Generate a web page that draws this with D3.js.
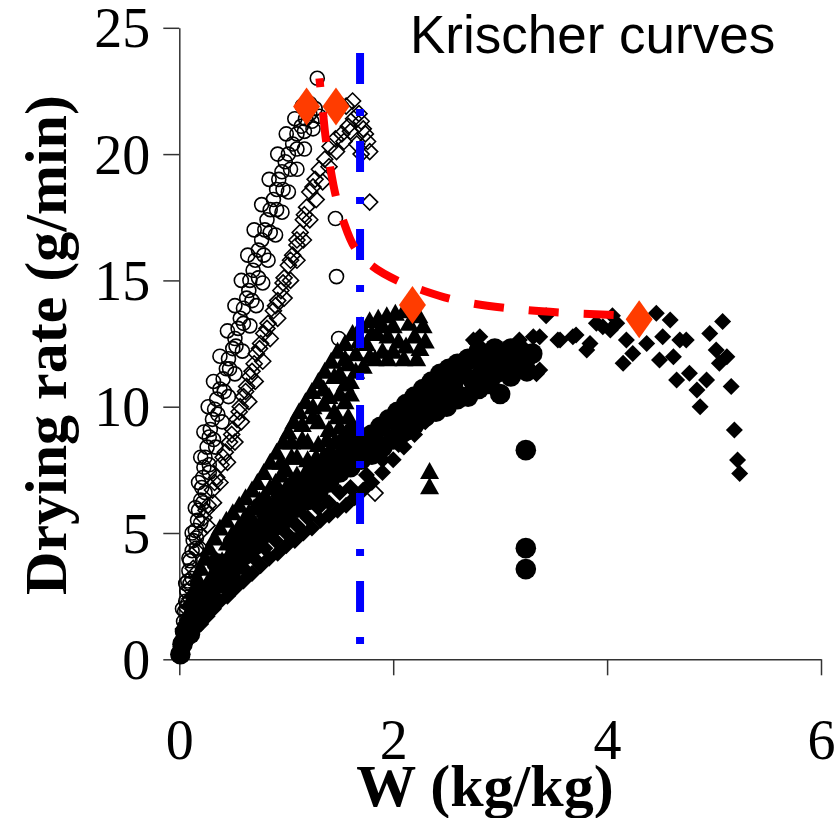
<!DOCTYPE html>
<html>
<head>
<meta charset="utf-8">
<script src="https://cdn.jsdelivr.net/npm/d3@7"></script>
<style>
  body { margin: 0; background: #fff; }
  svg { display: block; }
</style>
</head>
<body>
<script>
// W (kg/kg) vs drying rate (g/min), five runs
var openCircles = [
  [0.01,0.3],[0.02,0.7],[0.03,1.1],[0.04,1.5],[0.05,1.9],[0.06,2.3],[0.07,2.7],[0.08,3.1],[0.09,3.5],[0.1,3.9],
  [0.12,4.3],[0.13,4.7],[0.15,5.1],[0.17,5.5],[0.18,5.9],[0.2,6.3],[0.21,6.8],[0.22,7.2],[0.23,7.6],[0.24,8.0],
  [0.26,8.4],[0.28,8.8],[0.29,9.1],[0.31,9.5],[0.33,9.9],[0.35,10.3],[0.38,10.7],[0.41,11.1],[0.44,11.5],[0.46,11.9],
  [0.5,12.3],[0.52,12.7],[0.55,13.1],[0.57,13.5],[0.6,13.9],[0.63,14.3],[0.65,14.6],[0.66,15.0],[0.69,15.4],[0.71,15.8],
  [0.74,16.2],[0.77,16.6],[0.8,17.0],[0.82,17.4],[0.85,17.8],[0.88,18.2],[0.91,18.6],[0.93,19.0],[0.96,19.3],[0.99,19.7],
  [1.02,20.0],[1.06,20.4],[1.1,20.8],[1.14,21.1],[1.18,21.4],[1.22,21.6],[1.27,21.8],[1.31,21.5],
  [0.05,1.2],[0.08,2.2],[0.12,3.2],[0.16,4.4],[0.2,5.4],[0.24,6.6],[0.28,7.7],[0.32,8.7],[0.36,9.7],[0.42,10.6],
  [0.47,11.5],[0.53,12.4],[0.6,13.3],[0.68,14.2],[0.74,15.1],[0.79,16.0],[0.85,16.9],[0.91,17.8],[0.97,18.6],[1.04,19.4],
  [1.1,20.2],[1.17,20.9],[1.24,21.3],
  [0.03,2.0],[0.06,3.0],[0.09,4.0],[0.12,5.0],[0.15,6.0],[0.18,7.0],[0.2,8.0],[0.23,9.0],[0.27,10.0],[0.32,11.0],
  [0.38,12.0],[0.45,13.0],[0.52,14.0],[0.58,15.0],[0.64,16.0],[0.7,17.0],[0.77,18.0],[0.84,19.0],[0.92,20.0],[1.0,20.8],
  [1.08,21.4],[1.15,21.9],[1.22,22.0],
  [0.1,3.0],[0.16,4.8],[0.22,6.2],[0.28,7.4],[0.34,8.4],[0.4,9.4],[0.46,10.4],[0.52,11.3],[0.59,12.2],[0.66,13.2],
  [0.72,14.0],[0.78,14.9],[0.83,15.8],[0.9,16.8],[0.96,17.7],[1.02,18.5],[1.1,19.4],[1.17,20.2],[1.25,21.0],
  [1.29,23.0],[1.46,17.45],[1.47,15.15],[1.49,12.7]
];
var openDiamonds = [
  [0.02,0.5],[0.04,1.2],[0.07,2.0],[0.1,2.8],[0.13,3.6],[0.16,4.3],[0.19,5.0],[0.23,5.6],[0.27,6.1],[0.31,6.7],
  [0.35,7.2],[0.39,7.7],[0.43,8.2],[0.47,8.6],[0.5,9.1],[0.54,9.5],[0.57,10.0],[0.6,10.4],[0.63,10.8],[0.66,11.2],
  [0.7,11.7],[0.72,12.1],[0.76,12.5],[0.79,12.9],[0.83,13.3],[0.88,13.8],[0.92,14.2],[0.95,14.6],[0.98,15.1],[1.02,15.6],
  [1.06,16.0],[1.1,16.4],[1.13,16.9],[1.16,17.4],[1.19,17.9],[1.22,18.5],[1.27,19.0],[1.31,19.4],[1.36,19.8],[1.41,20.3],
  [1.46,20.6],[1.52,20.8],[1.58,21.1],[1.63,21.4],[1.56,21.9],[1.5,22.0],[1.62,22.1],[1.68,21.6],[1.72,21.0],[1.76,20.5],
  [1.78,20.1],[1.74,20.8],[1.66,20.4],[1.7,20.0],
  [0.25,5.9],[0.33,7.0],[0.41,8.0],[0.49,8.9],[0.56,9.8],[0.62,10.6],[0.68,11.4],[0.75,12.3],[0.82,13.1],[0.9,14.0],
  [0.97,14.9],[1.04,15.8],[1.1,16.6],[1.17,17.6],[1.25,18.7],
  [0.06,1.4],[0.1,2.4],[0.15,3.4],[0.2,4.4],[0.26,5.3],[0.32,6.2],[0.38,7.0],[0.45,7.8],[0.52,8.6],[0.58,9.4],
  [0.65,10.2],[0.71,11.0],[0.78,11.8],[0.85,12.7],[0.92,13.5],[0.98,14.3],[1.04,15.0],[1.1,15.8],[1.16,16.6],[1.22,17.4],
  [1.28,18.2],[1.34,18.9],[1.4,19.5],[1.47,20.1],[1.54,20.5],[1.6,20.9],[1.7,21.3],
  [1.78,18.1],[1.8,13.2],[1.83,6.58]
];
var triangles = [
  [0.01,0.3],[0.03,0.8],[0.05,1.3],[0.08,1.8],[0.1,2.3],[0.13,2.7],[0.17,3.2],[0.2,3.6],[0.24,4.0],[0.28,4.4],
  [0.33,4.8],[0.38,5.2],[0.44,5.5],[0.5,5.8],[0.56,6.1],[0.62,6.4],[0.68,6.7],[0.73,7.0],[0.79,7.4],[0.85,7.8],
  [0.91,8.2],[0.97,8.6],[1.02,9.0],[1.07,9.4],[1.12,9.8],[1.18,10.2],[1.24,10.6],[1.3,11.0],[1.36,11.4],[1.42,11.8],
  [1.48,12.2],[1.55,12.5],[1.62,12.9],[1.7,13.2],[1.78,13.4],[1.86,13.5],[1.94,13.6],[2.02,13.7],[2.1,13.8],[2.18,13.9],
  [2.24,13.6],[2.28,13.2],[2.2,12.8],[2.12,12.4],[2.25,12.3],[2.05,12.6],[1.95,12.8],[1.85,12.9],[1.75,12.5],[1.65,12.1],
  [1.58,11.7],[1.5,11.3],[1.6,11.0],[1.72,11.6],[1.83,11.9],[1.9,12.2],[2.3,12.6],
  [0.3,3.3],[0.4,3.9],[0.5,4.4],[0.6,4.9],[0.7,5.4],[0.8,5.9],[0.9,6.3],[1.0,6.8],[1.1,7.3],[1.2,7.9],
  [1.3,8.5],[1.4,9.1],[1.45,9.8],[1.35,10.1],[1.25,9.6],[1.15,8.7],[1.05,8.0],[0.95,7.3],[0.6,5.5],[0.5,5.0],
  [0.7,6.0],[0.15,1.6],[0.2,2.2],[0.25,2.8],
  [0.2,2.9],[0.35,3.9],[0.45,4.6],[0.55,5.2],[0.65,5.8],[0.75,6.3],[0.85,6.8],[0.95,7.8],[1.05,8.6],[1.15,9.3],
  [1.25,10.0],[1.35,10.7],[1.45,11.2],[1.55,11.9],[1.4,10.4],[1.3,9.4],[1.2,8.6],[1.1,8.0],[1.0,7.5],[0.9,7.0],
  [0.8,6.5],[1.5,10.5],[1.55,10.9],[1.48,9.6],[1.38,8.7],[1.28,8.0],[1.18,7.4],[1.08,6.9],[0.98,6.4],[0.88,6.0],
  [0.78,5.6],[1.65,11.4],[1.78,12.0],[1.68,12.6],[1.8,12.9],[1.9,13.2],[2.0,13.2],[2.15,13.3],[2.0,12.2],[2.1,11.9],
  [2.22,11.9],[1.95,11.9],
  [1.55,10.2],[1.6,10.5],[1.5,9.2],[1.45,8.6],[1.58,9.6],[1.52,8.4],[1.4,8.0],
  [2.34,7.43],[2.34,6.83]
];
var filledCircles = [
  [0.01,0.2],[0.03,0.6],[0.06,1.0],[0.1,1.4],[0.15,1.8],[0.2,2.2],[0.26,2.6],[0.32,3.0],[0.38,3.4],[0.45,3.8],
  [0.52,4.1],[0.6,4.5],[0.68,4.8],[0.76,5.1],[0.84,5.4],[0.92,5.7],[1.0,6.0],[1.08,6.3],[1.16,6.6],[1.24,6.9],
  [1.32,7.2],[1.4,7.5],[1.48,7.8],[1.56,8.1],[1.64,8.3],[1.72,8.6],[1.8,8.9],[1.88,9.2],[1.96,9.5],[2.04,9.8],
  [2.12,10.1],[2.2,10.4],[2.28,10.7],[2.36,11.0],[2.44,11.3],[2.52,11.5],[2.6,11.7],[2.68,11.8],[2.76,11.9],[2.84,12.0],
  [2.92,12.1],[3.0,12.1],[3.08,12.0],[3.16,12.0],[3.24,11.9],[3.3,12.1],
  [1.5,7.4],[1.6,7.6],[1.7,7.9],[1.8,8.1],[1.9,8.4],[2.0,8.7],[2.1,9.0],[2.2,9.3],[2.3,9.6],[2.4,9.8],
  [2.5,10.0],[2.6,10.3],[2.7,10.4],[2.8,10.7],[2.9,10.9],[3.0,10.5],[2.95,11.3],[3.1,11.2],[3.2,11.5],[2.56,10.9],
  [2.46,10.5],[2.35,10.2],
  [0.1,1.0],[0.2,1.7],[0.3,2.4],[0.4,3.0],[0.5,3.6],[0.6,4.1],[0.7,4.5],[0.8,5.0],[0.9,5.3],[1.0,5.6],
  [1.1,6.0],[1.2,6.3],[1.3,6.6],[1.4,7.0],
  [0.35,3.8],[0.5,4.6],[0.65,5.3],[0.8,5.9],[0.95,6.5],[1.1,7.0],[1.25,7.5],[1.4,8.0],[1.55,8.6],[1.62,9.0],
  [2.05,9.3],[2.15,9.6],[2.25,10.0],[2.4,10.6],[2.55,11.2],[2.65,11.3],[2.75,11.0],[2.85,11.5],[2.9,11.7],[3.05,11.6],
  [3.2,12.0],[3.25,11.4],[2.5,11.0],[2.7,11.9],[2.8,12.2],[2.95,12.3],[3.1,12.3],
  [3.24,8.28],[3.24,4.4],[3.24,3.57]
];
var filledDiamonds = [
  [0.02,0.3],[0.05,0.6],[0.1,0.9],[0.15,1.2],[0.2,1.4],[0.26,1.7],[0.32,2.0],[0.38,2.3],[0.45,2.5],[0.52,2.8],
  [0.6,3.1],[0.68,3.4],[0.76,3.7],[0.84,4.0],[0.92,4.2],[1.0,4.5],[1.08,4.7],[1.16,5.0],[1.24,5.2],[1.32,5.5],
  [1.4,5.7],[1.48,5.9],[1.56,6.1],[1.64,6.4],[1.72,6.7],[1.8,7.0],[1.9,7.4],[2.0,7.9],[2.1,8.4],[2.2,8.9],
  [2.3,9.4],[2.4,9.8],[2.5,10.2],[2.6,10.7],[2.7,11.1],[2.8,11.4],[2.9,11.7],[3.0,11.9],[3.1,12.2],[3.2,12.4],
  [0.3,2.6],[0.5,3.3],[0.7,4.0],[0.9,4.7],[1.1,5.3],[1.3,6.0],[1.5,6.6],
  [0.6,3.6],[0.8,4.4],[1.0,5.0],[1.2,5.6],[1.4,6.2],[1.6,6.8],[1.75,7.3],[1.9,7.9],[2.05,8.5],[2.2,9.2],
  [2.35,9.8],
  [2.81,12.77],[2.75,12.64],[2.78,12.5],[3.18,12.64],[3.31,12.77],[3.37,12.77],[3.43,13.6],[3.34,11.3],[3.37,11.45],[3.54,12.64],
  [3.56,12.64],[3.68,12.77],[3.71,12.84],[3.81,12.24],[3.84,12.5],[3.9,13.3],[3.96,13.17],[4.03,13.04],[4.05,13.6],[4.09,13.3],
  [4.18,12.64],[4.15,11.72],[4.24,12.11],[4.37,12.5],[4.46,13.7],[4.59,13.43],[4.52,12.77],[4.49,11.85],[4.62,11.98],[4.68,12.64],
  [4.74,12.64],[4.65,11.06],[4.77,11.32],[4.84,10.66],[4.93,11.06],[4.87,10.0],[4.96,12.9],[5.08,13.37],[5.02,12.24],[5.12,11.98],
  [5.05,11.72],[5.16,10.8],[5.19,9.08],[5.22,7.89],[5.24,7.36]
];
// critical points and the Krischer curve through them
var criticalPoints = [[1.19,21.88],[1.465,21.88],[2.18,14.03],[4.3,13.46]];
var krischerCurve = [
  [1.31,23.0],[1.34,21.8],[1.37,20.6],[1.41,19.5],[1.46,18.4],[1.53,17.4],[1.64,16.3],[1.81,15.55],
  [2.06,14.95],[2.28,14.6],[2.6,14.2],[3.07,13.9],[3.59,13.72],[4.12,13.62],[4.28,13.58]
];
var criticalW = 1.69;
var criticalLineSpan = [24.0, 0.55];
var xTicks = [0, 2, 4, 6];
var yTicks = [0, 5, 10, 15, 20, 25];

var width = 836, height = 818;
var plotLeft = 179.3, plotRight = 821, plotTop = 27.8, plotBottom = 659.3;

var svg = d3.select("body").append("svg")
    .attr("width", width)
    .attr("height", height);

var x = d3.scaleLinear().domain([0, 6]).range([plotLeft, plotRight]);
var y = d3.scaleLinear().domain([0, 25]).range([plotBottom, plotTop]);

// axes
var xAxis = svg.append("g")
    .attr("transform", "translate(0," + plotBottom + ")")
    .call(d3.axisBottom(x).tickValues(xTicks).tickFormat(d3.format("d"))
        .tickSize(16).tickPadding(44).tickSizeOuter(0));
var yAxis = svg.append("g")
    .attr("transform", "translate(" + plotLeft + ",0)")
    .call(d3.axisLeft(y).tickValues(yTicks).tickFormat(d3.format("d"))
        .tickSize(16).tickPadding(13).tickSizeOuter(0));

[xAxis, yAxis].forEach(function (g) {
    g.select(".domain").attr("stroke", "#333").attr("stroke-width", 1.5);
    g.selectAll(".tick line").attr("stroke", "#333").attr("stroke-width", 1.5);
    g.selectAll(".tick text")
        .attr("fill", "#000")
        .style("font-family", "'Liberation Serif', 'Times New Roman', serif")
        .style("font-size", "56px");
});
yAxis.selectAll(".tick text").attr("dy", "0.34em");

// marker shapes
function diamondPath(hw, hh) {
    return "M0," + (-hh) + "L" + hw + ",0L0," + hh + "L" + (-hw) + ",0Z";
}
var trianglePath = "M0,-9.5L9.5,7.5L-9.5,7.5Z";

var plot = svg.append("g");

plot.append("g").selectAll("circle")
    .data(openCircles)
    .enter().append("circle")
    .attr("cx", function (d) { return x(d[0]); })
    .attr("cy", function (d) { return y(d[1]); })
    .attr("r", 7)
    .attr("fill", "none")
    .attr("stroke", "#000")
    .attr("stroke-width", 1.6);

plot.append("g").selectAll("path")
    .data(openDiamonds)
    .enter().append("path")
    .attr("d", diamondPath(8, 8))
    .attr("transform", function (d) { return "translate(" + x(d[0]) + "," + y(d[1]) + ")"; })
    .attr("fill", "none")
    .attr("stroke", "#000")
    .attr("stroke-width", 1.6);

plot.append("g").selectAll("path")
    .data(filledDiamonds)
    .enter().append("path")
    .attr("d", diamondPath(8.5, 8.5))
    .attr("transform", function (d) { return "translate(" + x(d[0]) + "," + y(d[1]) + ")"; })
    .attr("fill", "#000");

plot.append("g").selectAll("circle")
    .data(filledCircles)
    .enter().append("circle")
    .attr("cx", function (d) { return x(d[0]); })
    .attr("cy", function (d) { return y(d[1]); })
    .attr("r", 10.3)
    .attr("fill", "#000");

plot.append("g").selectAll("path")
    .data(triangles)
    .enter().append("path")
    .attr("d", trianglePath)
    .attr("transform", function (d) { return "translate(" + x(d[0]) + "," + y(d[1]) + ")"; })
    .attr("fill", "#000");

// critical moisture line
svg.append("line")
    .attr("x1", x(criticalW)).attr("x2", x(criticalW))
    .attr("y1", y(criticalLineSpan[0])).attr("y2", y(criticalLineSpan[1]))
    .attr("stroke", "#0000ff")
    .attr("stroke-width", 8)
    .attr("stroke-dasharray", "31,25,7,25");

svg.append("g").selectAll("path")
    .data(criticalPoints)
    .enter().append("path")
    .attr("d", diamondPath(13.5, 19))
    .attr("transform", function (d) { return "translate(" + x(d[0]) + "," + y(d[1]) + ")"; })
    .attr("fill", "#ff3c00");

var line = d3.line()
    .x(function (d) { return x(d[0]); })
    .y(function (d) { return y(d[1]); })
    .curve(d3.curveCatmullRom.alpha(0.5));

svg.append("path")
    .datum(krischerCurve)
    .attr("d", line)
    .attr("fill", "none")
    .attr("stroke", "#ff0000")
    .attr("stroke-width", 8)
    .attr("stroke-dasharray", "30,25")
    .attr("stroke-dashoffset", 21);

// titles
svg.append("text")
    .attr("x", 410).attr("y", 53)
    .style("font-family", "'Liberation Sans', Arial, sans-serif")
    .style("font-size", "53px")
    .text("Krischer curves");

svg.append("text")
    .attr("x", 485).attr("y", 806)
    .attr("text-anchor", "middle")
    .style("font-family", "'Liberation Serif', 'Times New Roman', serif")
    .style("font-size", "60px")
    .style("font-weight", "bold")
    .text("W (kg/kg)");

svg.append("text")
    .attr("transform", "translate(66,345) rotate(-90)")
    .attr("text-anchor", "middle")
    .style("font-family", "'Liberation Serif', 'Times New Roman', serif")
    .style("font-size", "60px")
    .style("font-weight", "bold")
    .text("Drying rate (g/min)");
</script>
</body>
</html>
